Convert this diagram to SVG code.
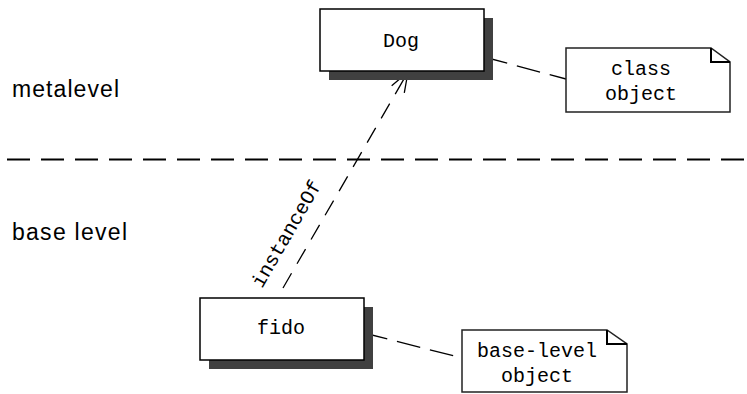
<svg xmlns="http://www.w3.org/2000/svg" width="747" height="394" viewBox="0 0 747 394">
<style>
.shadow{fill:#404040;stroke:none}
.box{fill:#fff;stroke:#000;stroke-width:1.5}
.note{fill:#fff;stroke:#222;stroke-width:1.5}
.fold{fill:none;stroke:#000;stroke-width:2}
.mono{font-family:"Liberation Mono","DejaVu Sans Mono",monospace;font-size:20px;fill:#000}
.sans{font-family:"Liberation Sans",Arial,sans-serif;font-size:23px;fill:#000}
.dash{fill:none;stroke:#000;stroke-width:1.3}
</style>
<defs>
<marker id="open" markerUnits="userSpaceOnUse" markerWidth="24" markerHeight="20" refX="0" refY="0" viewBox="-22 -10 24 20" orient="auto">
<path d="M -20,-7.3 L 0,0 L -20,7.3" fill="none" stroke="#000" stroke-width="1.3"/>
</marker>
</defs>
<rect width="747" height="394" fill="#fff"/>
<g id="levels">
<text class="sans" x="12" y="97" textLength="107" lengthAdjust="spacing">metalevel</text>
<text class="sans" x="12" y="240" textLength="115" lengthAdjust="spacing">base level</text>
<line x1="7" y1="159.5" x2="747" y2="159.5" stroke="#000" stroke-width="2.2" stroke-dasharray="23 11"/>
</g>
<g id="connectors">
<line class="dash" x1="484" y1="57" x2="566" y2="79" stroke-dasharray="24 10"/>
<line class="dash" x1="364" y1="333" x2="462" y2="358" stroke-dasharray="24 10"/>
<line class="dash" x1="283" y1="288" x2="408" y2="72" stroke-dasharray="17 11" marker-end="url(#open)"/>
<text class="mono" transform="translate(262,289) rotate(-60)">instanceOf</text>
</g>
<g id="dog">
<rect class="shadow" x="329" y="18" width="164" height="62"/>
<rect class="box" x="320" y="9" width="164" height="62"/>
<text class="mono" x="401" y="47" text-anchor="middle">Dog</text>
</g>
<g id="fido">
<rect class="shadow" x="209" y="307" width="164" height="62"/>
<rect class="box" x="200" y="298" width="164" height="62"/>
<text class="mono" x="281" y="334" text-anchor="middle">fido</text>
</g>
<g id="class-note">
<path class="note" d="M 566,48 L 711,48 L 730,62 L 730,112 L 566,112 Z"/>
<path class="fold" d="M 711,48 L 711,62 L 730,62"/>
<text class="mono" x="641" y="75" text-anchor="middle">class</text>
<text class="mono" x="641" y="100" text-anchor="middle">object</text>
</g>
<g id="base-note">
<path class="note" d="M 462,330 L 607,330 L 627,344 L 627,392 L 462,392 Z"/>
<path class="fold" d="M 607,330 L 607,344 L 627,344"/>
<text class="mono" x="537" y="357" text-anchor="middle">base-level</text>
<text class="mono" x="537" y="382" text-anchor="middle">object</text>
</g>
</svg>
